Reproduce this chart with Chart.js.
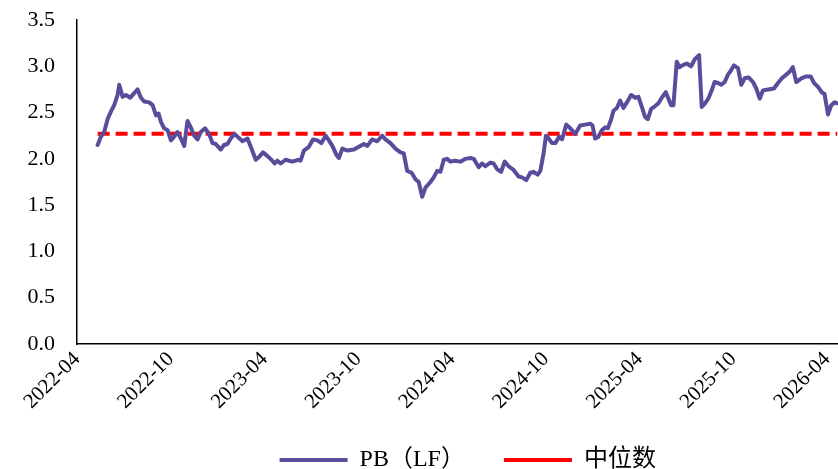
<!DOCTYPE html>
<html>
<head>
<meta charset="utf-8">
<script src="https://cdn.jsdelivr.net/npm/chart.js@4/dist/chart.umd.min.js"></script>
<style>
html,body{margin:0;padding:0;background:#fff;overflow:hidden}
#wrap{position:relative;width:838px;height:469px}
</style>
</head>
<body>
<div id="wrap"><canvas id="c"></canvas></div>
<script>
// Tick labels (6-month steps starting 2022-04) and their month offsets
const tickLabels = ['2022-04','2022-10','2023-04','2023-10','2024-04','2024-10','2025-04','2025-10','2026-04'];
const tickMonths = [0, 6, 12, 18, 24, 30, 36, 42, 48];

// Observation times, in months since 2022-04-01
const months = [
 1.32,1.53,1.74,1.96,2.17,2.38,2.60,2.70,2.92,3.13,3.41,3.66,3.88,4.09,4.30,4.62,4.84,5.05,5.22,5.37,
 5.58,5.80,6.01,6.22,6.43,6.65,6.86,7.07,7.28,7.50,7.71,7.92,8.20,8.45,8.67,8.88,9.20,9.41,9.63,9.84,
 10.05,10.27,10.59,10.91,11.12,11.44,11.65,11.90,12.19,12.44,12.65,12.82,13.04,13.35,13.78,14.14,14.31,14.52,14.84,15.10,
 15.38,15.64,15.91,16.12,16.34,16.61,16.76,16.98,17.30,17.72,18.04,18.36,18.58,18.89,19.21,19.53,19.74,20.06,20.38,20.70,
 20.91,21.13,21.41,21.66,21.87,22.09,22.30,22.62,22.83,23.05,23.26,23.47,23.69,23.90,24.17,24.54,24.86,25.18,25.39,25.71,
 25.92,26.13,26.45,26.66,26.88,27.14,27.37,27.62,27.94,28.26,28.48,28.75,29.01,29.22,29.48,29.65,29.86,30.01,30.18,30.40,
 30.61,30.86,31.04,31.31,31.57,31.89,32.20,32.52,32.84,32.99,33.16,33.37,33.59,33.80,33.97,34.19,34.33,34.55,34.76,34.97,
 35.19,35.46,35.72,35.93,36.19,36.36,36.53,36.74,37.00,37.21,37.46,37.68,37.85,38.02,38.17,38.38,38.55,38.74,39.02,39.30,
 39.55,39.81,39.98,40.19,40.40,40.62,40.80,41.02,41.23,41.45,41.66,41.87,42.04,42.30,42.51,42.73,42.98,43.26,43.47,43.69,
 43.90,44.22,44.60,44.86,45.11,45.39,45.60,45.81,46.03,46.35,46.66,46.95,47.16,47.41,47.65,47.84,48.06,48.27,48.48,48.65
];

// PB (LF) values
const pbValues = [
 2.15,2.24,2.29,2.43,2.51,2.58,2.69,2.80,2.67,2.69,2.66,2.71,2.75,2.66,2.62,2.61,2.58,2.47,2.49,2.40,
 2.33,2.31,2.20,2.24,2.29,2.22,2.14,2.41,2.34,2.25,2.21,2.29,2.33,2.27,2.17,2.16,2.10,2.15,2.16,2.22,
 2.27,2.24,2.19,2.22,2.13,1.99,2.02,2.07,2.03,1.99,1.95,1.98,1.95,1.99,1.97,1.99,1.98,2.09,2.13,2.21,
 2.20,2.17,2.25,2.20,2.14,2.04,2.01,2.11,2.09,2.10,2.13,2.16,2.14,2.21,2.19,2.25,2.21,2.17,2.11,2.07,
 2.06,1.87,1.85,1.78,1.75,1.59,1.69,1.75,1.80,1.87,1.86,1.99,2.00,1.97,1.98,1.97,2.00,2.01,2.00,1.91,
 1.95,1.92,1.96,1.95,1.89,1.86,1.97,1.92,1.88,1.81,1.80,1.77,1.85,1.86,1.83,1.87,2.06,2.25,2.22,2.17,
 2.17,2.24,2.21,2.37,2.33,2.27,2.36,2.37,2.38,2.36,2.22,2.24,2.31,2.34,2.33,2.43,2.52,2.55,2.63,2.55,
 2.61,2.69,2.66,2.67,2.54,2.45,2.43,2.54,2.57,2.60,2.67,2.72,2.65,2.58,2.58,3.05,2.99,3.01,3.03,3.00,
 3.08,3.12,2.56,2.60,2.65,2.74,2.83,2.82,2.80,2.83,2.91,2.96,3.01,2.98,2.80,2.87,2.88,2.83,2.76,2.65,
 2.74,2.75,2.76,2.82,2.87,2.91,2.94,2.99,2.83,2.87,2.89,2.89,2.82,2.78,2.72,2.70,2.48,2.58,2.61,2.60
];

const medianValue = 2.27;

const seriesNames = ['PB（LF）', '中位数'];

const pbPoints = months.map((m, i) => ({ x: m, y: pbValues[i] }));
const medianPoints = [
  { x: months[0], y: medianValue },
  { x: months[months.length - 1], y: medianValue }
];

const serif = "'Liberation Serif', 'Times New Roman', 'Noto Sans CJK SC', serif";

// Shift the legend row to the right, as in the original layout
const legendShift = {
  id: 'legendShift',
  afterLayout(chart) {
    const lg = chart.legend;
    if (lg) { lg.left += 46; lg.right += 46; }
  }
};

new Chart(document.getElementById('c'), {
  type: 'line',
  data: {
    datasets: [
      {
        label: seriesNames[0],
        data: pbPoints,
        borderColor: '#5B4B9B',
        backgroundColor: '#5B4B9B',
        borderWidth: 4,
        pointRadius: 0,
        pointStyle: 'line',
        tension: 0,
        borderJoinStyle: 'round',
        borderCapStyle: 'round',
        fill: false
      },
      {
        label: seriesNames[1],
        data: medianPoints,
        borderColor: '#FF0000',
        backgroundColor: '#FF0000',
        borderWidth: 4,
        borderDash: [12, 6],
        pointRadius: 0,
        pointStyle: 'line',
        tension: 0,
        fill: false
      }
    ]
  },
  plugins: [legendShift],
  options: {
    responsive: true,
    maintainAspectRatio: false,
    animation: false,
    layout: { padding: { left: 5.5, right: 0, top: 20, bottom: -13 } },
    plugins: {
      legend: {
        position: 'bottom',
        labels: {
          usePointStyle: true,
          pointStyle: 'line',
          pointStyleWidth: 68,
          boxHeight: 24,
          padding: 39,
          color: '#000',
          font: { family: serif, size: 24 }
        }
      },
      tooltip: { enabled: false }
    },
    scales: {
      x: {
        type: 'linear',
        min: 0,
        max: 48.7,
        grid: { display: false, drawTicks: false },
        border: { display: true, color: '#000', width: 1.5 },
        afterBuildTicks: (scale) => { scale.ticks = tickMonths.map(v => ({ value: v })); },
        afterFit: (scale) => { scale.paddingLeft = 0; scale.paddingRight = 0; scale.height = 65; },
        ticks: {
          autoSkip: false,
          minRotation: 45,
          maxRotation: 45,
          padding: 3,
          color: '#000',
          font: { family: serif, size: 21 },
          callback: (v) => { const i = tickMonths.indexOf(v); return i >= 0 ? tickLabels[i] : ''; }
        }
      },
      y: {
        min: 0,
        max: 3.5,
        grid: { display: false, drawTicks: false },
        border: { display: true, color: '#000', width: 1.5 },
        afterFit: (scale) => { scale.paddingTop = 0; scale.paddingBottom = 0; },
        ticks: {
          stepSize: 0.5,
          padding: 22,
          color: '#000',
          font: { family: serif, size: 22 },
          callback: (v) => Number(v).toFixed(1)
        }
      }
    }
  }
});
</script>
</body>
</html>
